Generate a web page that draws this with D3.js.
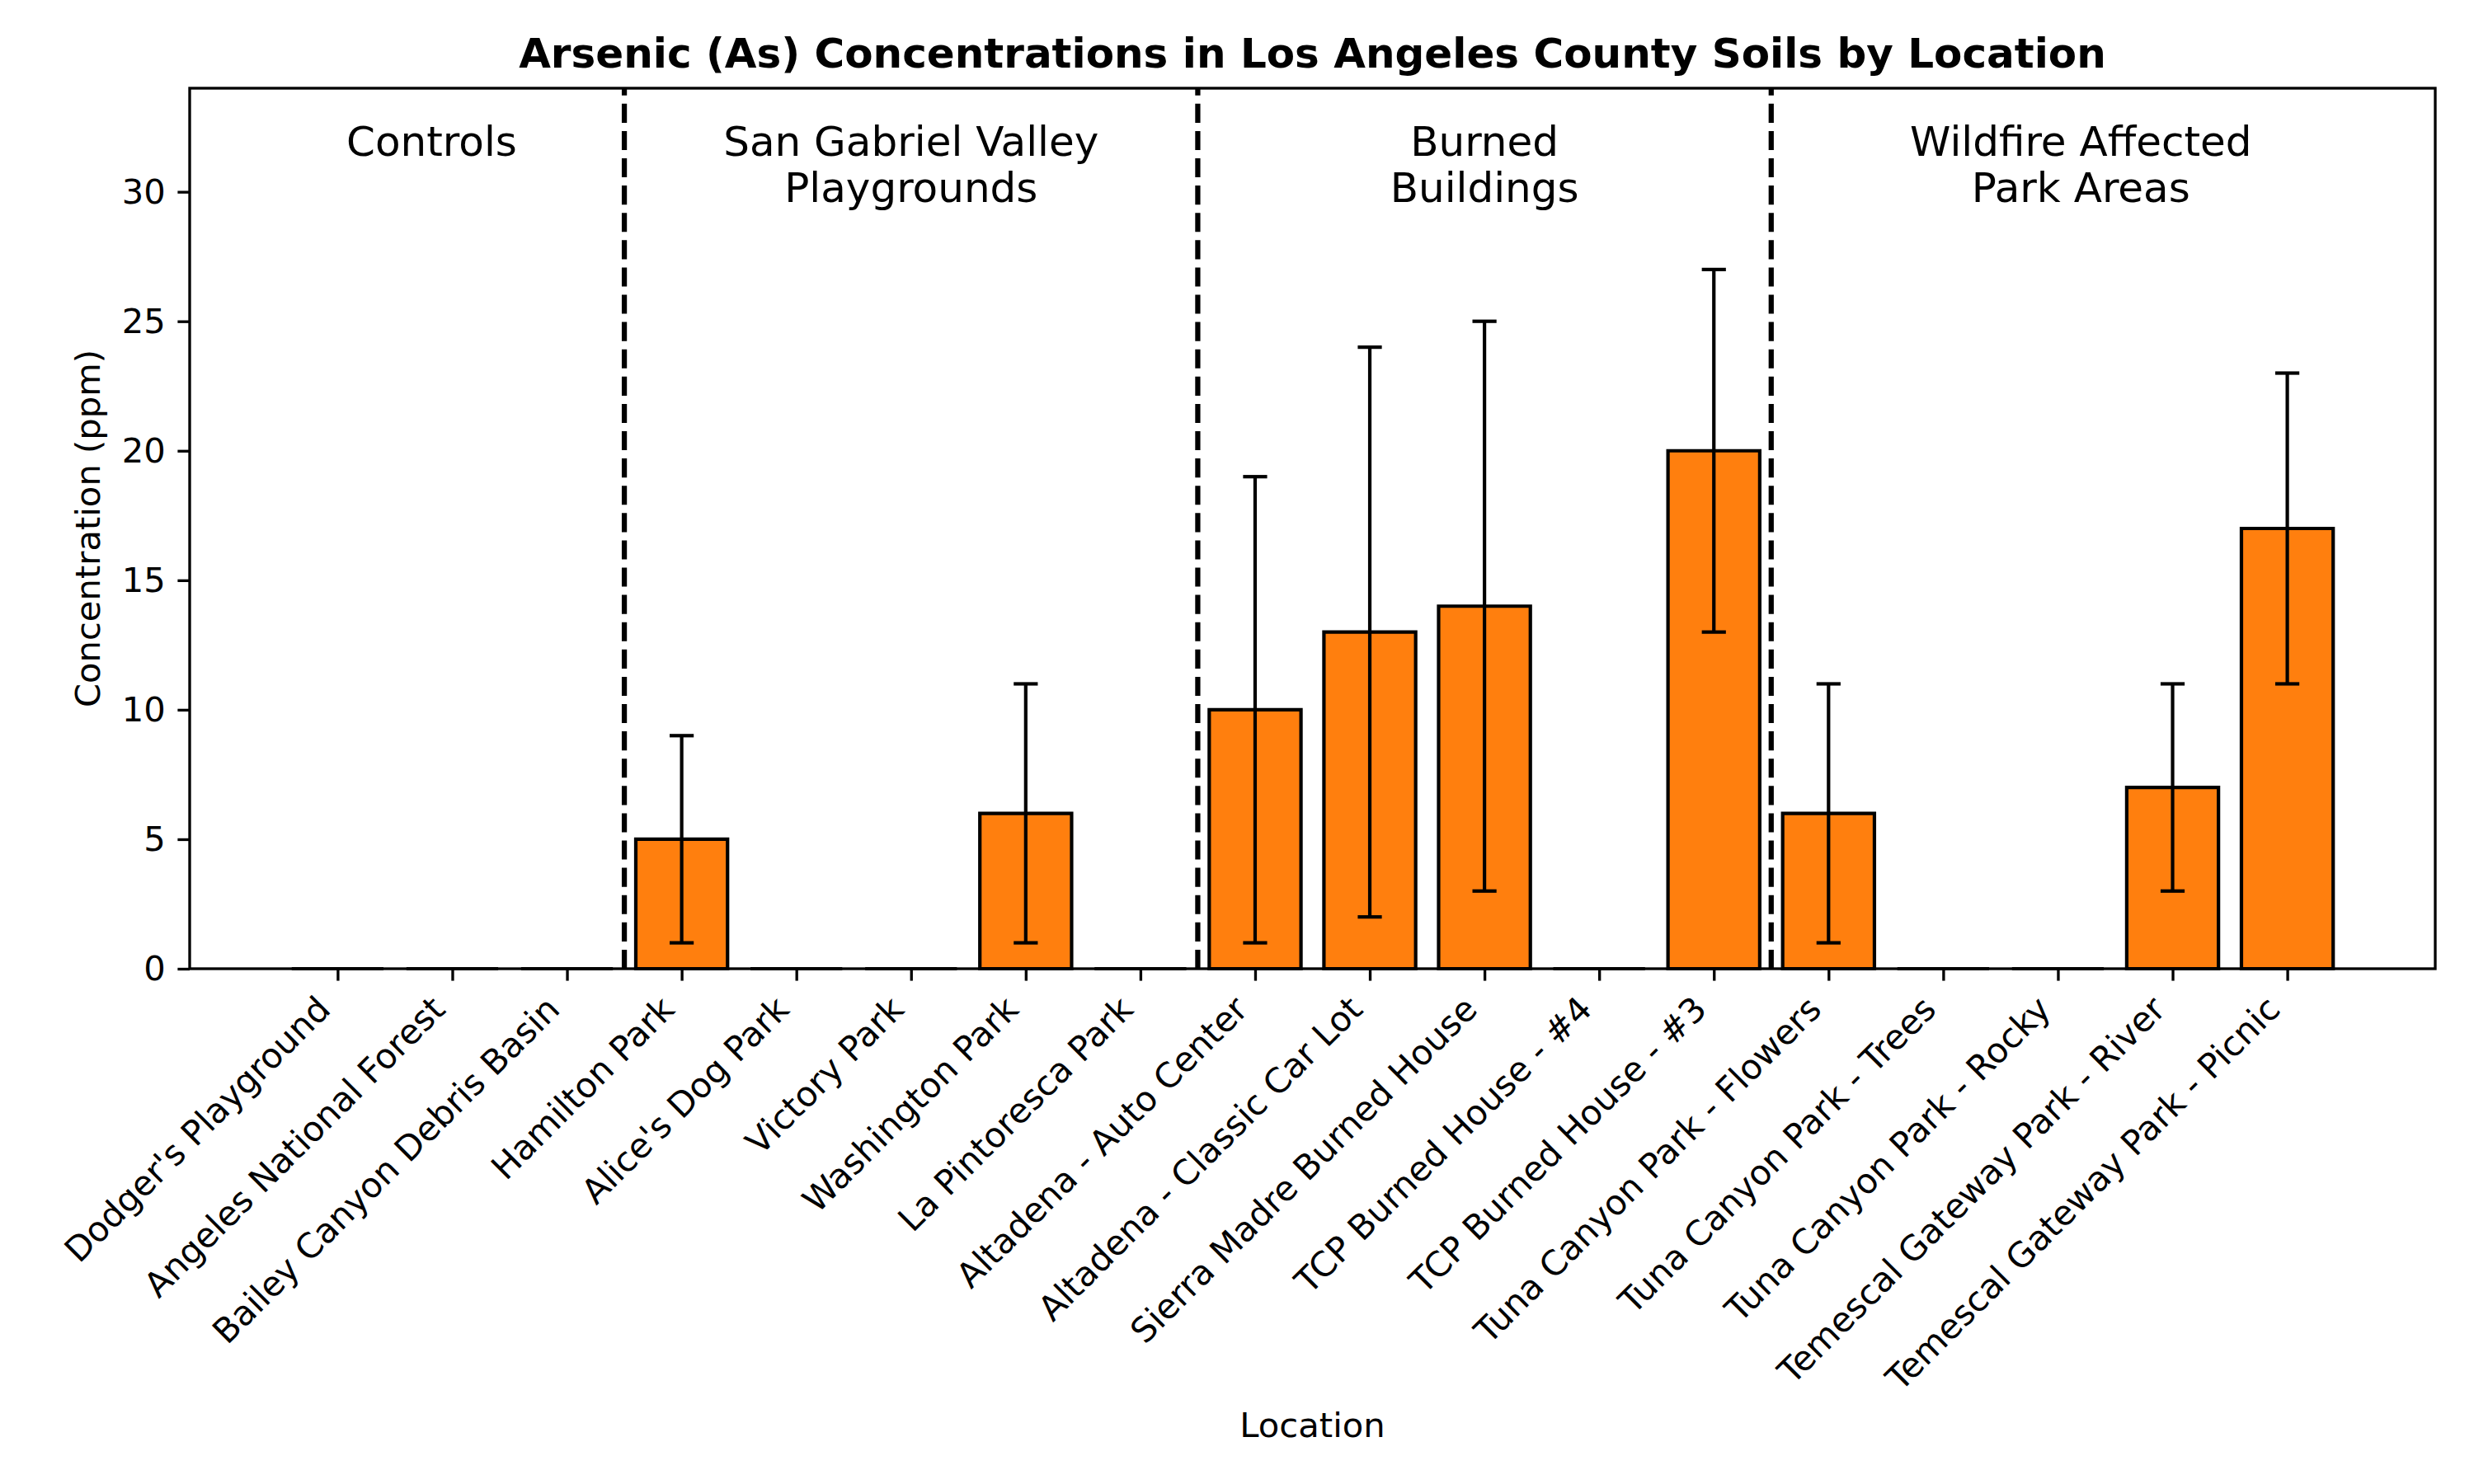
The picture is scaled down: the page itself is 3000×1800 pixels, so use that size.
<!DOCTYPE html>
<html>
<head>
<meta charset="utf-8">
<script src="https://cdn.jsdelivr.net/npm/d3@7"></script>
<style>
  body { margin: 0; background: #fff; }
  svg text { font-family: "DejaVu Sans", sans-serif; fill: #000; }
</style>
</head>
<body>
<div id="chart"></div>
<script>
// data
const locations = [
  "Dodger's Playground", "Angeles National Forest", "Bailey Canyon Debris Basin",
  "Hamilton Park", "Alice's Dog Park", "Victory Park", "Washington Park", "La Pintoresca Park",
  "Altadena - Auto Center", "Altadena - Classic Car Lot", "Sierra Madre Burned House",
  "TCP Burned House - #4", "TCP Burned House - #3",
  "Tuna Canyon Park - Flowers", "Tuna Canyon Park - Trees", "Tuna Canyon Park - Rocky",
  "Temescal Gateway Park - River", "Temescal Gateway Park - Picnic"
];
const arsenic = [0, 0, 0, 5, 0, 0, 6, 0, 10, 13, 14, 0, 20, 6, 0, 0, 7, 17];
const arsenicErr = [0, 0, 0, 4, 0, 0, 5, 0, 9, 11, 11, 0, 7, 5, 0, 0, 4, 6];

const groupNames = [["Controls"], ["San Gabriel Valley", "Playgrounds"], ["Burned", "Buildings"], ["Wildfire Affected", "Park Areas"]];
const groupBounds = [2.5, 7.5, 12.5];          // dashed separators (between bar indices)
const groupLabelX = [0.82, 5, 10, 15.2];       // label centres in bar-index units
const yTicks = [0, 5, 10, 15, 20, 25, 30];

const width = 3000, height = 1800;
const margin = { top: 107, right: 47, bottom: 625, left: 230 };
const plotW = width - margin.left - margin.right;
const plotH = height - margin.top - margin.bottom;

const svg = d3.select("#chart").append("svg")
  .attr("width", width)
  .attr("height", height)
  .style("background", "#fff");

const g = svg.append("g").attr("transform", `translate(${margin.left},${margin.top})`);

const barW = 0.8;
const pad = 0.05 * (locations.length - 1 + barW);
const x = d3.scaleLinear()
  .domain([-barW / 2 - pad, locations.length - 1 + barW / 2 + pad])
  .range([0, plotW]);
const y = d3.scaleLinear().domain([0, 34]).range([plotH, 0]);

// bars (paths so that the zero-height ones still show their edge)
g.selectAll("path.bar")
  .data(arsenic)
  .enter().append("path")
  .attr("class", "bar")
  .attr("d", (d, i) => {
    const x0 = x(i - barW / 2), x1 = x(i + barW / 2);
    return `M${x0},${y(0)}V${y(d)}H${x1}V${y(0)}Z`;
  })
  .attr("fill", "#ff7f0e")
  .attr("stroke", "#000")
  .attr("stroke-width", 4.2);

// error bars
const capHalf = 14.6;
const errs = arsenic.map((d, i) => ({ i, v: d, e: arsenicErr[i] })).filter(d => d.e > 0);
const eg = g.selectAll("g.err").data(errs).enter().append("g").attr("class", "err");
eg.append("line")
  .attr("x1", d => x(d.i)).attr("x2", d => x(d.i))
  .attr("y1", d => y(d.v - d.e)).attr("y2", d => y(d.v + d.e))
  .attr("stroke", "#000").attr("stroke-width", 4.2);
eg.selectAll("line.cap")
  .data(d => [d.v - d.e, d.v + d.e].map(v => ({ i: d.i, v })))
  .enter().append("line")
  .attr("class", "cap")
  .attr("x1", d => x(d.i) - capHalf).attr("x2", d => x(d.i) + capHalf)
  .attr("y1", d => y(d.v)).attr("y2", d => y(d.v))
  .attr("stroke", "#000").attr("stroke-width", 4.2);

// dashed group separators
g.selectAll("line.sep")
  .data(groupBounds)
  .enter().append("line")
  .attr("class", "sep")
  .attr("x1", d => x(d)).attr("x2", d => x(d))
  .attr("y1", plotH).attr("y2", 0)
  .attr("stroke", "#000")
  .attr("stroke-width", 6.25)
  .attr("stroke-dasharray", "23.1,10");

// group labels
g.selectAll("text.group")
  .data(groupNames)
  .enter().append("text")
  .attr("class", "group")
  .attr("text-anchor", "middle")
  .attr("font-size", 50)
  .attr("transform", (d, i) => `translate(${x(groupLabelX[i])},${189 - margin.top})`)
  .selectAll("tspan")
  .data(d => d)
  .enter().append("tspan")
  .attr("x", 0)
  .attr("dy", (d, j) => j === 0 ? 0 : 56)
  .text(d => d);

// y axis
const yAxis = g.append("g")
  .call(d3.axisLeft(y).tickValues(yTicks).tickSize(14.6).tickSizeOuter(0).tickPadding(14.6));
yAxis.select(".domain").remove();
yAxis.selectAll(".tick line").attr("stroke", "#000").attr("stroke-width", 3.33);
yAxis.selectAll(".tick text").attr("font-size", 41.7).attr("font-family", "DejaVu Sans");

// x axis
const xAxis = g.append("g")
  .attr("transform", `translate(0,${plotH})`)
  .call(d3.axisBottom(x).tickValues(d3.range(locations.length))
    .tickFormat(i => locations[i]).tickSize(14.6).tickSizeOuter(0));
xAxis.select(".domain").remove();
xAxis.selectAll(".tick line").attr("stroke", "#000").attr("stroke-width", 3.33);
xAxis.selectAll(".tick text")
  .attr("font-size", 41.7)
  .attr("font-family", "DejaVu Sans")
  .attr("text-anchor", "end")
  .attr("y", 0)
  .attr("dy", 0)
  .attr("transform", "translate(-7,51.6) rotate(-45)");

// frame
g.append("rect")
  .attr("width", plotW).attr("height", plotH)
  .attr("fill", "none").attr("stroke", "#000").attr("stroke-width", 3.33);

// titles
svg.append("text")
  .attr("x", margin.left + plotW / 2).attr("y", 82)
  .attr("text-anchor", "middle")
  .attr("font-size", 50).attr("font-weight", "bold")
  .text("Arsenic (As) Concentrations in Los Angeles County Soils by Location");

svg.append("text")
  .attr("x", margin.left + plotW / 2).attr("y", 1743)
  .attr("text-anchor", "middle")
  .attr("font-size", 41.7)
  .text("Location");

svg.append("text")
  .attr("transform", `translate(121,${margin.top + plotH / 2}) rotate(-90)`)
  .attr("text-anchor", "middle")
  .attr("font-size", 41.7)
  .text("Concentration (ppm)");
</script>
</body>
</html>
